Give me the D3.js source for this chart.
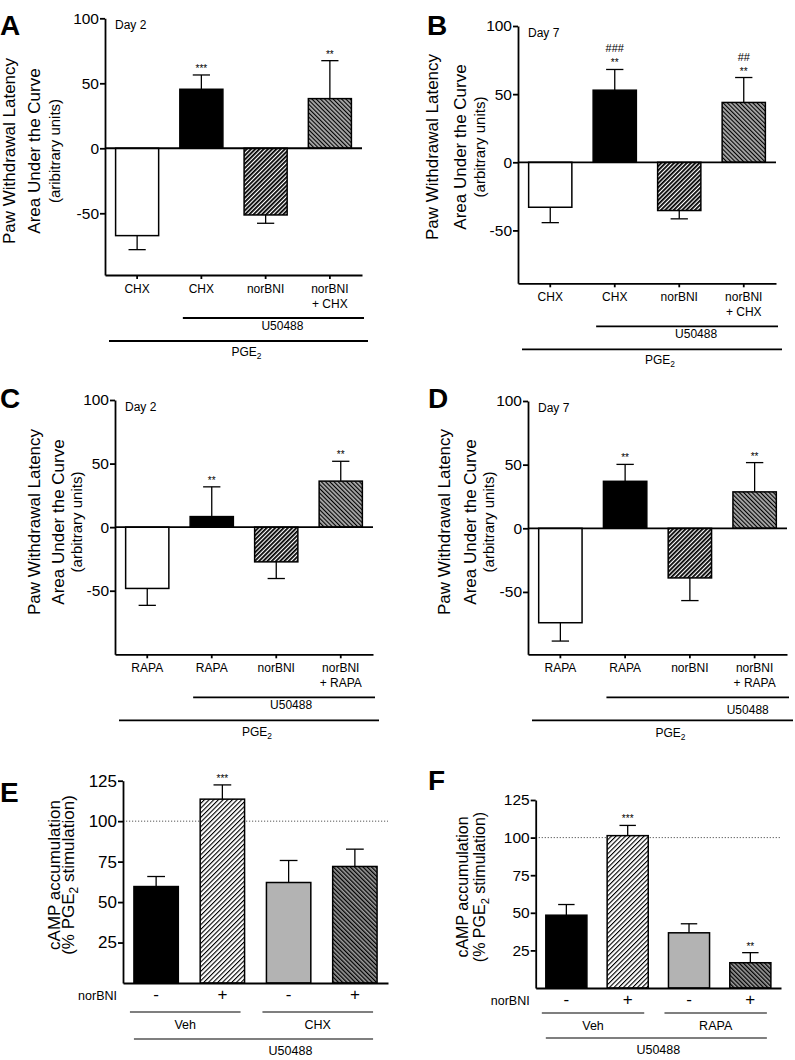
<!DOCTYPE html>
<html>
<head>
<meta charset="utf-8">
<script src="https://cdn.jsdelivr.net/npm/d3@7"></script>
<style>
  body { margin: 0; background: #fff; }
  svg { display: block; }
  text { font-family: 'Liberation Sans', Arial, Helvetica, sans-serif; fill: #000; }
</style>
</head>
<body>
<div id="chart"></div>
<script>
// ---- data ----
const pawTicks  = [-50, 0, 50, 100];
const campTicks = [25, 50, 75, 100, 125];

const labelsCHX  = ['CHX', 'CHX', 'norBNI', 'norBNI\n+ CHX'];
const labelsRAPA = ['RAPA', 'RAPA', 'norBNI', 'norBNI\n+ RAPA'];
const dayLabels  = ['Day 2', 'Day 7', 'Day 2', 'Day 7'];

const valuesA = [-67.2, 45.4, -51.3, 38.2];
const errorsA = [10.8, 11.0, 6.4, 29.2];
const starsA  = ['', '***', '', '**'];

const valuesB = [-33.0, 52.9, -35.4, 43.9];
const errorsB = [11.3, 15.2, 6.1, 18.3];
const starsB  = ['', '**', '', '**'];
const hashesB = ['', '###', '', '##'];

const valuesC = [-48.2, 8.3, -27.3, 36.2];
const errorsC = [13.3, 23.4, 13.1, 15.6];
const starsC  = ['', '**', '', '**'];

const valuesD = [-74.2, 36.9, -39.0, 28.6];
const errorsD = [14.4, 13.3, 17.8, 23.0];
const starsD  = ['', '**', '', '**'];

const valuesE = [59.6, 113.6, 62.1, 72.0];
const errorsE = [6.2, 8.8, 13.6, 10.7];
const starsE  = ['', '***', '', ''];

const valuesF = [48.4, 101.3, 36.7, 16.8];
const errorsF = [7.1, 6.8, 6.0, 6.7];
const starsF  = ['', '***', '', '**'];

const norbniSigns = ['-', '+', '-', '+'];
const groupsE = ['Veh', 'CHX'];
const groupsF = ['Veh', 'RAPA'];

const pawTitleA = ['Paw Withdrawal Latency', 'Area Under the Curve', '(aribitrary units)'];
const pawTitle  = ['Paw Withdrawal Latency', 'Area Under the Curve', '(arbitrary units)'];
const campTitle = ['cAMP accumulation', '(% PGE_2 stimulation)'];

// ---- svg + hatch patterns ----
const svg = d3.select('#chart').append('svg')
  .attr('width', 795)
  .attr('height', 1060);

const defs = svg.append('defs');
function hatch(id, angle, size, stripe, bg, fg) {
  const p = defs.append('pattern')
    .attr('id', id)
    .attr('patternUnits', 'userSpaceOnUse')
    .attr('width', size)
    .attr('height', size)
    .attr('patternTransform', `rotate(${angle})`);
  p.append('rect').attr('width', size).attr('height', size).attr('fill', bg);
  p.append('rect').attr('width', stripe).attr('height', size).attr('fill', fg);
}
hatch('hatchDark', 45, 3, 1.8, '#fff', '#000');
hatch('hatchGray', -45, 3, 1.1, '#a8a8a8', '#000');
hatch('hatchWhite', 45, 3.3, 1.1, '#fff', '#000');
hatch('hatchGray2', -45, 3, 1.3, '#9c9c9c', '#000');

const pawFills  = ['#fff', '#000', 'url(#hatchDark)', 'url(#hatchGray)'];
const campFills = ['#000', 'url(#hatchWhite)', '#b3b3b3', 'url(#hatchGray2)'];

// text with "_2" style subscripts
function richText(sel, str, fs) {
  const parts = str.split(/_(\d)/);
  parts.forEach((s, i) => {
    if (!s) return;
    if (i % 2) sel.append('tspan').attr('font-size', fs * 0.7).attr('dy', fs * 0.25).text(s);
    else sel.append('tspan').attr('dy', i ? -fs * 0.25 : null).text(s);
  });
}

// ---- panel layout ----
const panels = [
  { letter: 'A', lx: 0,   ly: 35,  x0: 105,   x1: 362, yTop: 18.3,  yBot: 275,   yMin: -97.5, yMax: 100,
    kind: 'paw', values: valuesA, errors: errorsA, stars: starsA, hashes: null, labels: labelsCHX, day: dayLabels[0],
    title: pawTitleA, titleX: [15, 40, 60], titleY: 151, u50Dx: 9, u50Dy: 12, pgeDy: 15 },
  { letter: 'B', lx: 427, ly: 35,  x0: 518,   x1: 776, yTop: 26,    yBot: 283.3, yMin: -88.8, yMax: 100,
    kind: 'paw', values: valuesB, errors: errorsB, stars: starsB, hashes: hashesB, labels: labelsCHX, day: dayLabels[1],
    title: pawTitle, titleX: [438, 466, 485], titleY: 147, u50Dx: 9, u50Dy: 12, pgeDy: 15 },
  { letter: 'C', lx: 0,   ly: 408, x0: 115,   x1: 373, yTop: 400,   yBot: 654.3, yMin: -100,  yMax: 100,
    kind: 'paw', values: valuesC, errors: errorsC, stars: starsC, hashes: null, labels: labelsRAPA, day: dayLabels[2],
    title: pawTitle, titleX: [40, 64, 82], titleY: 522, u50Dx: 7, u50Dy: 12, pgeDy: 16 },
  { letter: 'D', lx: 428, ly: 408, x0: 528,   x1: 787, yTop: 401,   yBot: 654.3, yMin: -99,   yMax: 100,
    kind: 'paw', values: valuesD, errors: errorsD, stars: starsD, hashes: null, labels: labelsRAPA, day: dayLabels[3],
    title: pawTitle, titleX: [450, 476, 494], titleY: 522, u50Dx: 50, u50Dy: 17, pgeDy: 17 },
  { letter: 'E', lx: 0,   ly: 802, x0: 123,   x1: 388, yTop: 780.7, yBot: 983,   yMin: 0,     yMax: 125,
    kind: 'camp', values: valuesE, errors: errorsE, stars: starsE, hashes: null, groups: groupsE,
    title: campTitle, titleX: [60, 74], titleY: 875, titleFont: 17, tickFont: 17, groupDy: 29, u50Dy: 56, u50Dx: 37 },
  { letter: 'F', lx: 428, ly: 790, x0: 535.7, x1: 781, yTop: 800,   yBot: 988,   yMin: 0,     yMax: 125,
    kind: 'camp', values: valuesF, errors: errorsF, stars: starsF, hashes: null, groups: groupsF,
    title: campTitle, titleX: [468, 485], titleY: 887, titleFont: 16, tickFont: 15.5, groupDy: 25, u50Dy: 50, u50Dx: 2 }
];

function hline(g, xa, xb, yy, w) {
  g.append('line')
    .attr('x1', xa).attr('x2', xb)
    .attr('y1', yy).attr('y2', yy)
    .attr('stroke', '#000')
    .attr('stroke-width', w || 1.6);
}

function drawPanel(p) {
  const g = svg.append('g');
  const paw = p.kind === 'paw';

  const x = d3.scaleBand()
    .domain(d3.range(p.values.length))
    .range([p.x0, p.x1])
    .paddingInner(0.33)
    .paddingOuter(0.165);
  const y = d3.scaleLinear()
    .domain([p.yMin, p.yMax])
    .range([p.yBot, p.yTop]);
  const cx = i => x(i) + x.bandwidth() / 2;

  // panel letter
  g.append('text')
    .attr('x', p.lx).attr('y', p.ly)
    .attr('font-size', 28).attr('font-weight', 'bold')
    .text(p.letter);

  // y axis title
  p.title.forEach((line, k) => {
    const fs = paw ? (k < 2 ? 17 : 15) : p.titleFont;
    const t = g.append('text')
      .attr('transform', `translate(${p.titleX[k]},${p.titleY}) rotate(-90)`)
      .attr('text-anchor', 'middle')
      .attr('font-size', fs);
    richText(t, line, fs);
  });

  // dotted 100% line
  if (!paw) {
    g.append('line')
      .attr('x1', p.x0).attr('x2', p.x1)
      .attr('y1', y(100)).attr('y2', y(100))
      .attr('stroke', '#555').attr('stroke-width', 1)
      .attr('stroke-dasharray', '1.2,1.8');
  }

  // bars
  g.selectAll('rect.bar')
    .data(p.values)
    .join('rect')
      .attr('class', 'bar')
      .attr('x', (d, i) => x(i))
      .attr('width', x.bandwidth())
      .attr('y', d => Math.min(y(d), y(0)))
      .attr('height', d => Math.abs(y(d) - y(0)))
      .attr('fill', (d, i) => (paw ? pawFills : campFills)[i])
      .attr('stroke', '#000')
      .attr('stroke-width', 1.5);

  // one-sided error bars
  const cap = x.bandwidth() * 0.4;
  const tipOf = i => p.values[i] + Math.sign(p.values[i]) * p.errors[i];
  p.values.forEach((v, i) => {
    const yt = y(tipOf(i));
    g.append('line')
      .attr('x1', cx(i)).attr('x2', cx(i))
      .attr('y1', y(v)).attr('y2', yt)
      .attr('stroke', '#000').attr('stroke-width', 1.3);
    g.append('line')
      .attr('x1', cx(i) - cap / 2).attr('x2', cx(i) + cap / 2)
      .attr('y1', yt).attr('y2', yt)
      .attr('stroke', '#000').attr('stroke-width', 1.3);
  });

  // significance marks
  p.stars.forEach((s, i) => {
    if (!s) return;
    g.append('text')
      .attr('x', cx(i)).attr('y', y(tipOf(i)) - 3)
      .attr('text-anchor', 'middle').attr('font-size', 10)
      .text(s);
  });
  if (p.hashes) {
    p.hashes.forEach((s, i) => {
      if (!s) return;
      g.append('text')
        .attr('x', cx(i)).attr('y', y(tipOf(i)) - 17)
        .attr('text-anchor', 'middle').attr('font-size', 11)
        .text(s);
    });
  }

  // zero line
  if (paw) hline(g, p.x0, p.x1, y(0), 1.8);

  // axes
  const ya = g.append('g')
    .attr('transform', `translate(${p.x0},0)`)
    .call(d3.axisLeft(y)
      .tickValues(paw ? pawTicks : campTicks)
      .tickSize(5).tickSizeOuter(0).tickPadding(1)
      .tickFormat(d => String(d)));
  ya.attr('font-family', null).attr('font-size', paw ? 15.5 : p.tickFont);
  ya.selectAll('path, line').attr('stroke-width', 1.8);

  const xa = g.append('g')
    .attr('transform', `translate(0,${p.yBot})`)
    .call(d3.axisBottom(x).tickSize(paw ? 4 : 0).tickSizeOuter(0).tickFormat(''));
  xa.selectAll('path, line').attr('stroke-width', 1.8);

  if (paw) {
    // day label
    g.append('text')
      .attr('x', p.x0 + 10).attr('y', p.yTop + 11)
      .attr('font-size', 12)
      .text(p.day);

    // category labels
    p.labels.forEach((lab, i) => {
      lab.split('\n').forEach((ln, k) => {
        g.append('text')
          .attr('x', cx(i)).attr('y', p.yBot + 18 + k * 15)
          .attr('text-anchor', 'middle').attr('font-size', 12)
          .text(ln);
      });
    });

    // treatment brackets
    const uy = p.yBot + 43, uxa = x(1) + 3, uxb = p.x1 + 2;
    hline(g, uxa, uxb, uy, 1.8);
    g.append('text')
      .attr('x', (uxa + uxb) / 2 + p.u50Dx).attr('y', uy + p.u50Dy)
      .attr('text-anchor', 'middle').attr('font-size', 12)
      .text('U50488');

    const py = p.yBot + 66, pxa = p.x0 + 4, pxb = p.x1 + 6;
    hline(g, pxa, pxb, py, 1.8);
    const pt = g.append('text')
      .attr('x', (pxa + pxb) / 2 + 8).attr('y', py + p.pgeDy)
      .attr('text-anchor', 'middle').attr('font-size', 12);
    richText(pt, 'PGE_2', 12);
  } else {
    g.append('text')
      .attr('x', p.x0 - 6).attr('y', p.yBot + 17)
      .attr('text-anchor', 'end').attr('font-size', 12.5)
      .text('norBNI');
    norbniSigns.forEach((s, i) => {
      g.append('text')
        .attr('x', cx(i)).attr('y', p.yBot + 17)
        .attr('text-anchor', 'middle').attr('font-size', 17)
        .text(s);
    });

    const gy = p.yBot + p.groupDy;
    p.groups.forEach((name, k) => {
      const a = x(2 * k) - 4, b = x(2 * k + 1) + x.bandwidth() - 4;
      hline(g, a, b, gy, 1.2);
      g.append('text')
        .attr('x', (a + b) / 2).attr('y', gy + 17)
        .attr('text-anchor', 'middle').attr('font-size', 12.5)
        .text(name);
    });

    const uy = p.yBot + p.u50Dy;
    const ua = x(0), ub = x(3) + x.bandwidth() - 4;
    hline(g, ua, ub, uy, 1.2);
    g.append('text')
      .attr('x', (ua + ub) / 2 + p.u50Dx).attr('y', uy + 16)
      .attr('text-anchor', 'middle').attr('font-size', 12.5)
      .text('U50488');
  }
}

panels.forEach(drawPanel);
</script>
</body>
</html>
